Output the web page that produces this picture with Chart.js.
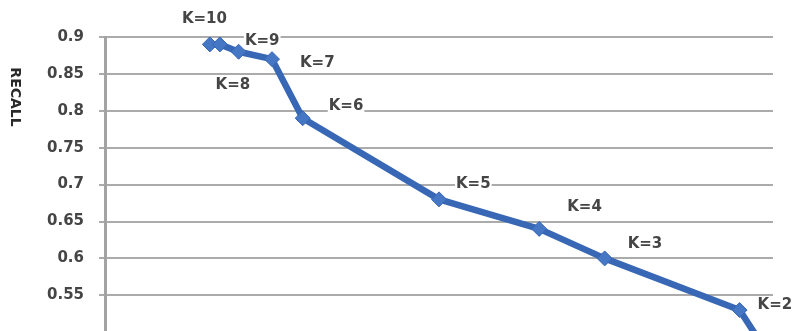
<!DOCTYPE html>
<html>
<head>
<meta charset="utf-8">
<script src="https://cdn.jsdelivr.net/npm/chart.js@4.4.1/dist/chart.umd.min.js"></script>
<style>
  html, body { margin: 0; padding: 0; background: #ffffff; }
  #frame { width: 793px; height: 331px; overflow: hidden; position: relative; }
  #wrap { width: 793px; height: 430px; position: absolute; left: 0; top: 0; }
</style>
</head>
<body>
<div id="frame"><div id="wrap"><canvas id="c"></canvas></div></div>
<script>
// Precision / recall trade-off for different K
const kLabels   = ['K=10', 'K=9', 'K=8', 'K=7', 'K=6', 'K=5', 'K=4', 'K=3', 'K=2', 'K=1'];
const precision = [0.157, 0.172, 0.2, 0.25, 0.296, 0.5, 0.65, 0.748, 0.95, 1.0];
const recall    = [0.89, 0.89, 0.88, 0.87, 0.79, 0.68, 0.64, 0.60, 0.53, 0.46];
const yTicks    = { min: 0.4, max: 0.9, step: 0.05, lowestShown: 0.55 };

// Where each K label sits relative to its point: [dx to label's left edge, dy to its middle]
const labelPlacement = [
  [-28, -26], [25, -4], [-23, 32], [28, 3], [26, -13],
  [17, -16], [28, -23], [23, -15], [18, -6], [18, -6]
];

const lineBlue = '#3767b5';
const markerBlue = '#4677c4';
const textGray = '#454545';
const gridGray = '#ababab';

const points = precision.map((p, i) => ({ x: p, y: recall[i] }));
const shownTick = v => v >= yTicks.lowestShown - 1e-6;

const kLabelPlugin = {
  id: 'kLabels',
  afterDatasetsDraw(chart) {
    const ctx = chart.ctx;
    const meta = chart.getDatasetMeta(0);
    ctx.save();
    ctx.font = 'bold 15px "DejaVu Sans"';
    ctx.textBaseline = 'middle';
    ctx.textAlign = 'left';
    meta.data.forEach((pt, i) => {
      const [dx, dy] = labelPlacement[i];
      const text = kLabels[i];
      const w = ctx.measureText(text).width;
      const x = pt.x + dx, y = pt.y + dy;
      ctx.fillStyle = '#ffffff';
      ctx.fillRect(x - 1, y - 8, w + 2, 16);
      ctx.fillStyle = textGray;
      ctx.fillText(text, x, y + 1);
    });
    ctx.restore();
  }
};

const yTitlePlugin = {
  id: 'yTitle',
  afterDraw(chart) {
    const ctx = chart.ctx;
    const area = chart.chartArea;
    ctx.save();
    ctx.translate(area.left - 90, area.top + 60);
    ctx.rotate(Math.PI / 2);
    ctx.font = 'bold 14px "DejaVu Sans"';
    ctx.fillStyle = '#2a2a2a';
    ctx.textAlign = 'center';
    ctx.textBaseline = 'middle';
    ctx.fillText('RECALL', 0, 0);
    ctx.restore();
  }
};

new Chart(document.getElementById('c'), {
  type: 'line',
  data: {
    datasets: [{
      data: points,
      borderColor: lineBlue,
      borderWidth: 6.5,
      borderJoinStyle: 'round',
      tension: 0,
      pointStyle: 'rectRot',
      pointRadius: 7.5,
      pointBackgroundColor: markerBlue,
      pointBorderColor: lineBlue,
      pointBorderWidth: 1
    }]
  },
  options: {
    responsive: true,
    maintainAspectRatio: false,
    animation: false,
    events: [],
    layout: { padding: { top: 37, right: 20, bottom: 14, left: 0 } },
    plugins: { legend: { display: false }, tooltip: { enabled: false } },
    scales: {
      x: { type: 'linear', min: 0, max: 1, display: false },
      y: {
        min: yTicks.min,
        max: yTicks.max,
        afterFit(scale) { scale.width = 105; },
        ticks: {
          stepSize: yTicks.step,
          padding: 15,
          color: textGray,
          font: { family: 'DejaVu Sans', size: 15, weight: 'bold' },
          callback: v => shownTick(v) ? String(+v.toFixed(2)) : ''
        },
        grid: {
          color: c => (c.tick && !shownTick(c.tick.value)) ? 'rgba(0,0,0,0)' : gridGray,
          lineWidth: 2,
          tickLength: 6
        },
        border: { color: '#a3a3a3', width: 3 }
      }
    }
  },
  plugins: [kLabelPlugin, yTitlePlugin]
});
</script>
</body>
</html>
